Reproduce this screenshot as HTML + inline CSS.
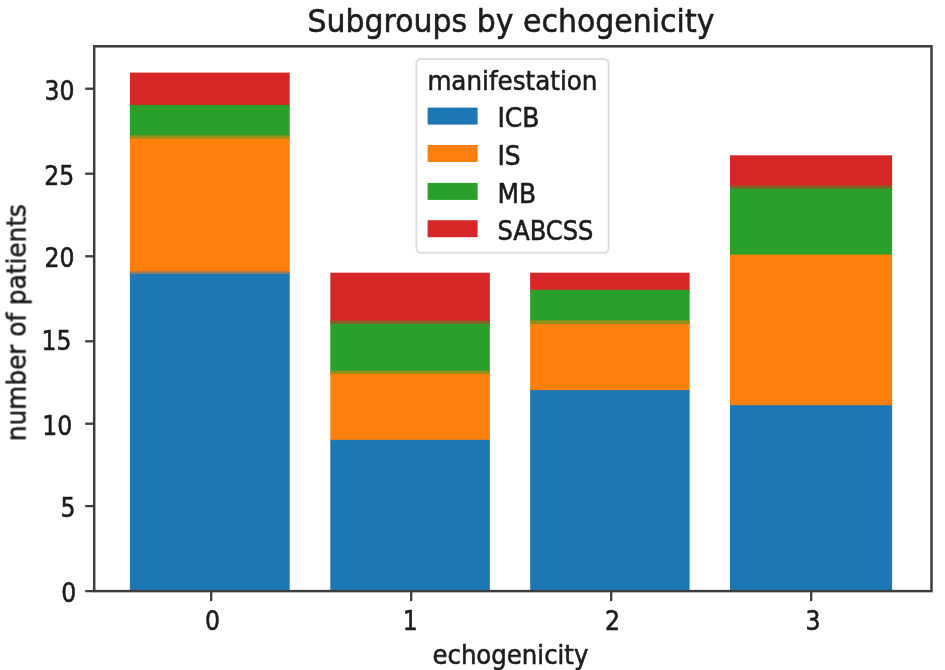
<!DOCTYPE html>
<html lang="en">
<head>
<meta charset="utf-8">
<title>Subgroups by echogenicity</title>
<style>
html, body { margin: 0; padding: 0; background: #ffffff; }
body { width: 945px; height: 670px; overflow: hidden; }
svg { display: block; }
text { font-family: "DejaVu Sans", "Liberation Sans", sans-serif; fill: #1c1c1c; stroke: #1c1c1c; stroke-width: 0.55px; stroke-linejoin: round; }
.tick { font-size: 25px; }
.lab { font-size: 25px; }
.title { font-size: 30px; }
</style>
</head>
<body>
<svg width="945" height="670" viewBox="0 0 945 670">
<defs><filter id="soft" x="0" y="0" width="945" height="670" filterUnits="userSpaceOnUse"><feGaussianBlur stdDeviation="0.75"/></filter></defs>
<rect x="0" y="0" width="945" height="670" fill="#ffffff"/>
<g filter="url(#soft)">

<g>
<rect x="129.90" y="72.60" width="159.80" height="34.30" fill="#d62728"/>
<rect x="129.90" y="104.90" width="159.80" height="34.50" fill="#2ca02c"/>
<rect x="129.90" y="137.40" width="159.80" height="137.30" fill="#ff7f0e"/>
<rect x="129.90" y="272.70" width="159.80" height="318.40" fill="#1f77b4"/>
<rect x="330.30" y="272.70" width="159.55" height="51.70" fill="#d62728"/>
<rect x="330.30" y="322.40" width="159.55" height="52.10" fill="#2ca02c"/>
<rect x="330.30" y="372.50" width="159.55" height="69.30" fill="#ff7f0e"/>
<rect x="330.30" y="439.80" width="159.55" height="151.30" fill="#1f77b4"/>
<rect x="530.15" y="272.70" width="159.45" height="19.10" fill="#d62728"/>
<rect x="530.15" y="289.80" width="159.45" height="34.60" fill="#2ca02c"/>
<rect x="530.15" y="322.40" width="159.45" height="69.70" fill="#ff7f0e"/>
<rect x="530.15" y="390.10" width="159.45" height="201.00" fill="#1f77b4"/>
<rect x="730.00" y="155.30" width="162.10" height="34.10" fill="#d62728"/>
<rect x="730.00" y="187.40" width="162.10" height="69.20" fill="#2ca02c"/>
<rect x="730.00" y="254.60" width="162.10" height="152.60" fill="#ff7f0e"/>
<rect x="730.00" y="405.20" width="162.10" height="185.90" fill="#1f77b4"/>
<rect x="129.90" y="135.20" width="159.80" height="3.40" fill="#958f1d"/>
<rect x="129.90" y="271.40" width="159.80" height="2.60" fill="#8f7b61"/>
<rect x="330.30" y="320.70" width="159.55" height="3.30" fill="#81632a"/>
<rect x="330.30" y="370.70" width="159.55" height="3.30" fill="#958f1d"/>
<rect x="530.15" y="320.40" width="159.45" height="3.80" fill="#958f1d"/>
<rect x="730.00" y="185.50" width="162.10" height="3.10" fill="#81632a"/>
</g>
<rect x="94.20" y="46.30" width="837.30" height="544.80" fill="none" stroke="#3c3c3c" stroke-width="2.5"/>
<line x1="211.20" y1="591.10" x2="211.20" y2="601.10" stroke="#3c3c3c" stroke-width="2.3"/>
<text class="tick" transform="translate(212.60 629.60) scale(1 1.075)" text-anchor="middle" textLength="15" lengthAdjust="spacingAndGlyphs">0</text>
<line x1="411.20" y1="591.10" x2="411.20" y2="601.10" stroke="#3c3c3c" stroke-width="2.3"/>
<text class="tick" transform="translate(410.30 629.60) scale(1 1.075)" text-anchor="middle" textLength="15" lengthAdjust="spacingAndGlyphs">1</text>
<line x1="611.20" y1="591.10" x2="611.20" y2="601.10" stroke="#3c3c3c" stroke-width="2.3"/>
<text class="tick" transform="translate(612.50 629.60) scale(1 1.075)" text-anchor="middle" textLength="15" lengthAdjust="spacingAndGlyphs">2</text>
<line x1="811.20" y1="591.10" x2="811.20" y2="601.10" stroke="#3c3c3c" stroke-width="2.3"/>
<text class="tick" transform="translate(813.00 629.60) scale(1 1.075)" text-anchor="middle" textLength="15" lengthAdjust="spacingAndGlyphs">3</text>
<line x1="85.20" y1="591.10" x2="94.20" y2="591.10" stroke="#3c3c3c" stroke-width="2.3"/>
<text class="tick" transform="translate(76.20 602.20) scale(1 1.075)" text-anchor="end" textLength="15" lengthAdjust="spacingAndGlyphs">0</text>
<line x1="85.20" y1="506.10" x2="94.20" y2="506.10" stroke="#3c3c3c" stroke-width="2.3"/>
<text class="tick" transform="translate(75.40 517.20) scale(1 1.075)" text-anchor="end" textLength="15" lengthAdjust="spacingAndGlyphs">5</text>
<line x1="85.20" y1="423.70" x2="94.20" y2="423.70" stroke="#3c3c3c" stroke-width="2.3"/>
<text class="tick" transform="translate(72.20 434.60) scale(1 1.075)" text-anchor="end" textLength="30" lengthAdjust="spacingAndGlyphs">10</text>
<line x1="85.20" y1="341.30" x2="94.20" y2="341.30" stroke="#3c3c3c" stroke-width="2.3"/>
<text class="tick" transform="translate(71.60 349.80) scale(1 1.075)" text-anchor="end" textLength="30" lengthAdjust="spacingAndGlyphs">15</text>
<line x1="85.20" y1="256.30" x2="94.20" y2="256.30" stroke="#3c3c3c" stroke-width="2.3"/>
<text class="tick" transform="translate(74.60 267.40) scale(1 1.075)" text-anchor="end" textLength="30" lengthAdjust="spacingAndGlyphs">20</text>
<line x1="85.20" y1="173.70" x2="94.20" y2="173.70" stroke="#3c3c3c" stroke-width="2.3"/>
<text class="tick" transform="translate(74.20 184.60) scale(1 1.075)" text-anchor="end" textLength="30" lengthAdjust="spacingAndGlyphs">25</text>
<line x1="85.20" y1="88.70" x2="94.20" y2="88.70" stroke="#3c3c3c" stroke-width="2.3"/>
<text class="tick" transform="translate(74.60 99.80) scale(1 1.075)" text-anchor="end" textLength="30" lengthAdjust="spacingAndGlyphs">30</text>
<text class="title" transform="translate(510.90 31.90) scale(1 1.085)" text-anchor="middle" textLength="407" lengthAdjust="spacingAndGlyphs">Subgroups by echogenicity</text>
<text class="lab" transform="translate(510.40 664.40) scale(1 1.075)" text-anchor="middle" textLength="156" lengthAdjust="spacingAndGlyphs">echogenicity</text>
<text class="lab" transform="translate(25.40 322.60) rotate(-90) scale(1 1.075)" text-anchor="middle" textLength="237" lengthAdjust="spacingAndGlyphs">number of patients</text>
<rect x="416.4" y="59.0" width="192.2" height="193.8" rx="4.5" ry="4.5" fill="#ffffff" fill-opacity="0.8" stroke="#d4d4d4" stroke-opacity="0.8" stroke-width="2.0"/>
<text class="lab" transform="translate(427.40 89.80) scale(1 1.075)" text-anchor="start" textLength="170" lengthAdjust="spacingAndGlyphs">manifestation</text>
<rect x="427.6" y="107.60" width="50.0" height="17.0" fill="#1f77b4"/>
<text class="lab" transform="translate(497.40 126.90) scale(1 1.075)" text-anchor="start">ICB</text>
<rect x="427.6" y="145.00" width="50.0" height="17.0" fill="#ff7f0e"/>
<text class="lab" transform="translate(497.40 164.80) scale(1 1.075)" text-anchor="start">IS</text>
<rect x="427.6" y="182.90" width="50.0" height="17.0" fill="#2ca02c"/>
<text class="lab" transform="translate(497.40 202.70) scale(1 1.075)" text-anchor="start">MB</text>
<rect x="427.6" y="220.20" width="50.0" height="17.0" fill="#d62728"/>
<text class="lab" transform="translate(497.40 239.50) scale(1 1.075)" text-anchor="start" textLength="96" lengthAdjust="spacingAndGlyphs">SABCSS</text>
</g>
</svg>
</body>
</html>
